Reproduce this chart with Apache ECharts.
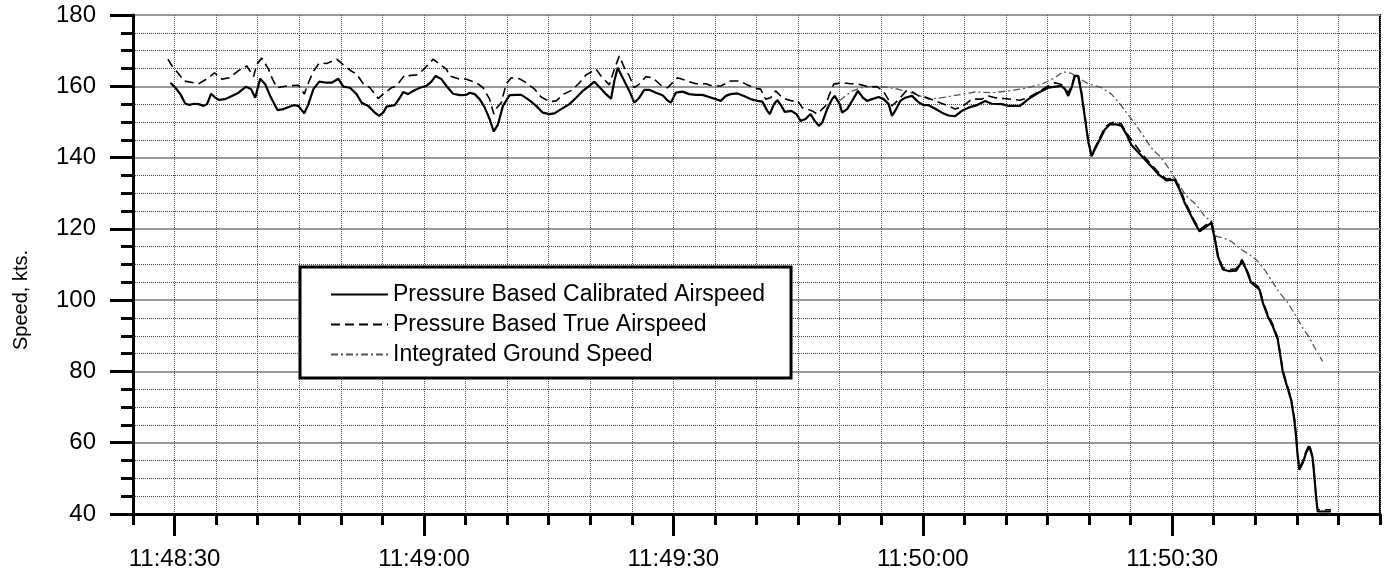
<!DOCTYPE html>
<html>
<head>
<meta charset="utf-8">
<script src="https://cdn.jsdelivr.net/npm/echarts@6/dist/echarts.min.js"></script>
<style>
  html, body { margin: 0; padding: 0; background: #ffffff; }
  #chart { width: 1389px; height: 581px; }
</style>
</head>
<body>
<div id="chart"></div>
<script>
// Time base: 11:48:30 expressed as seconds after midnight.
const T0 = 11 * 3600 + 48 * 60 + 30;

// Axis ranges and tick labels
const xStart = T0 - 5;          // 11:48:25
const xEnd = T0 + 145;          // 11:50:55
const xLabelTimes = [T0, T0 + 30, T0 + 60, T0 + 90, T0 + 120];
const yMin = 40, yMax = 180;

const seriesNames = [
  'Pressure Based Calibrated Airspeed',
  'Pressure Based True Airspeed',
  'Integrated Ground Speed'
];

// [seconds after 11:48:30, knots]
const calibratedAirspeed = [
  [-0.5,161.0],[0.1,159.6],[0.7,157.8],[1.3,155.1],[1.8,154.8],[2.3,155.1],[2.9,155.0],[3.5,154.5],
  [3.9,155.0],[4.4,157.9],[4.9,156.8],[5.3,156.2],[6.1,156.4],[6.9,157.3],[7.7,158.2],[8.6,159.9],
  [9.2,159.2],[9.7,156.8],[10.3,162.1],[10.9,160.6],[11.5,157.3],[12.4,153.3],[13.1,153.6],[14.3,154.7],
  [14.9,154.5],[15.6,152.4],[16.1,155.0],[16.7,159.2],[17.4,161.3],[18.3,161.0],[18.9,161.0],[19.7,162.1],
  [20.3,159.9],[21.1,159.6],[21.9,157.8],[22.5,155.4],[23.3,154.5],[24.1,152.6],[24.6,151.7],[25.1,152.6],
  [25.5,154.3],[26.5,154.7],[27.1,156.8],[27.5,158.4],[28.1,157.8],[28.7,158.7],[29.5,159.6],[30.3,160.1],
  [30.9,161.3],[31.4,162.9],[32.1,162.0],[32.7,160.1],[33.5,157.9],[34.3,157.5],[35.1,157.6],[35.5,158.2],
  [36.1,157.8],[36.7,156.4],[37.3,154.1],[37.9,150.8],[38.4,147.3],[38.9,149.3],[39.5,154.5],[40.3,157.5],
  [41.1,157.6],[41.7,157.6],[42.5,156.4],[43.5,154.5],[44.3,152.6],[45.1,152.2],[45.7,152.4],[46.5,153.6],
  [47.5,155.0],[48.3,156.8],[49.1,158.7],[49.9,160.1],[50.5,161.3],[51.3,159.3],[51.9,157.8],[52.5,156.5],
  [52.9,161.5],[53.3,165.2],[53.9,162.4],[54.7,158.7],[55.3,155.4],[55.9,156.8],[56.5,159.0],[57.1,159.0],
  [57.9,158.2],[58.7,157.5],[59.3,156.0],[59.7,155.4],[60.3,158.2],[61.1,158.5],[61.9,157.8],[62.7,157.6],
  [63.5,157.6],[64.3,157.0],[65.1,156.4],[65.7,155.9],[66.3,157.3],[66.9,157.8],[67.7,158.0],[68.5,157.3],
  [69.3,156.4],[70.1,155.9],[70.7,155.7],[71.3,153.1],[71.6,152.2],[72.1,155.0],[72.5,156.1],[73.0,154.5],
  [73.4,152.8],[74.2,153.1],[74.8,152.2],[75.3,150.3],[75.9,150.8],[76.5,152.2],[77.0,150.3],[77.5,148.9],
  [77.9,149.8],[78.5,153.6],[79.1,156.4],[79.4,157.3],[80.0,155.0],[80.3,152.6],[80.9,153.6],[81.5,155.9],
  [82.2,158.7],[82.8,156.8],[83.3,155.9],[83.9,156.4],[84.7,157.0],[85.3,156.4],[85.9,155.0],[86.3,151.7],
  [86.8,153.6],[87.3,155.9],[87.9,156.8],[88.7,157.3],[89.5,155.5],[90.1,154.7],[90.7,154.7],[91.5,153.7],
  [92.3,152.6],[93.1,151.8],[93.9,151.6],[94.7,153.1],[95.5,154.0],[96.5,154.7],[97.5,155.9],[98.3,155.1],
  [99.5,155.0],[100.3,154.5],[101.7,154.5],[102.7,156.4],[103.9,158.2],[105.1,159.6],[106.7,160.1],[107.1,159.2],
  [107.5,157.3],[107.9,159.6],[108.3,162.9],[108.7,162.9],[109.1,157.8],[109.5,151.2],[109.9,144.6],[110.3,140.4],
  [110.7,142.3],[111.3,145.1],[111.9,147.9],[112.5,149.3],[113.3,149.3],[113.9,148.9],[114.5,146.5],[115.1,143.5],
  [116.3,140.5],[117.5,137.5],[118.5,135.0],[119.3,133.6],[120.3,133.8],[120.9,131.0],[121.5,127.3],[122.1,124.5],
  [122.7,121.7],[123.3,119.3],[123.9,120.3],[124.7,121.7],[125.1,117.5],[125.5,112.3],[126.1,108.6],[126.9,108.1],
  [127.7,108.3],[128.4,110.9],[128.9,108.6],[129.5,104.9],[130.5,103.0],[130.9,99.3],[131.5,95.5],[132.1,92.7],
  [132.7,89.0],[133.3,80.0],[133.7,76.7],[134.3,72.1],[134.7,66.4],[134.9,61.8],[135.1,56.2],[135.3,52.4],
  [135.7,54.3],[136.1,57.1],[136.5,59.0],[136.9,55.7],[137.1,50.6],[137.3,45.0],[137.5,40.7],[138.3,40.7],
  [139.1,40.7]
];

const trueAirspeed = [
  [-0.8,167.6],[-0.3,165.7],[0.7,162.9],[1.1,161.5],[2.3,161.0],[2.9,160.7],[4.1,162.4],[4.8,163.8],
  [5.7,162.0],[6.6,162.4],[7.7,164.4],[8.7,165.7],[9.5,162.7],[9.9,166.2],[10.5,167.9],[11.3,164.8],
  [11.7,162.4],[12.3,159.6],[13.5,160.1],[14.9,160.3],[15.6,157.8],[16.1,161.0],[16.7,164.2],[17.4,166.5],
  [18.3,166.4],[19.5,167.6],[20.2,166.2],[21.1,164.5],[21.9,163.4],[22.7,160.7],[23.5,159.6],[24.5,156.6],
  [25.1,157.8],[26.1,159.6],[26.7,160.1],[27.7,163.2],[28.2,163.0],[29.1,163.2],[29.9,164.6],[31.1,167.6],
  [32.7,164.8],[33.1,162.9],[34.3,162.0],[35.1,162.0],[36.3,161.0],[37.1,159.6],[37.9,156.4],[38.4,152.2],
  [38.8,154.1],[39.3,155.4],[39.9,160.7],[40.5,162.4],[41.5,162.1],[42.3,161.0],[43.3,159.2],[44.1,157.0],
  [45.1,155.7],[45.9,155.9],[46.8,157.8],[47.8,158.9],[48.7,161.0],[49.5,163.2],[50.7,164.8],[51.3,162.9],
  [52.3,160.4],[52.9,164.8],[53.5,168.5],[54.1,165.2],[54.7,162.9],[55.3,159.6],[55.9,160.6],[56.7,162.7],
  [57.5,162.4],[58.7,159.9],[59.3,159.6],[60.1,161.5],[60.5,162.4],[61.9,161.3],[62.7,160.7],[63.9,160.7],
  [64.7,160.1],[65.7,160.1],[66.9,161.5],[68.0,161.5],[68.8,160.5],[69.9,159.4],[70.5,159.2],[71.1,156.4],
  [71.7,156.8],[72.3,158.7],[72.9,157.3],[73.5,156.4],[74.3,155.9],[74.9,156.1],[75.5,154.0],[76.1,153.6],
  [76.7,153.1],[77.3,152.2],[77.9,153.6],[78.3,154.5],[78.7,157.3],[79.3,160.6],[80.3,161.0],[81.3,160.7],
  [82.1,160.7],[82.6,160.4],[83.5,159.8],[84.5,159.9],[85.3,158.5],[86.3,154.5],[87.0,156.0],[88.0,158.7],
  [88.7,158.5],[89.5,157.3],[90.3,157.0],[91.5,155.9],[92.3,155.2],[93.1,154.5],[93.9,153.6],[94.9,154.5],
  [95.9,156.4],[97.1,156.4],[97.9,157.3],[98.7,156.8],[100.0,156.5],[101.7,156.1],[102.7,156.8],[104.1,158.7],
  [105.1,160.1],[105.9,161.0],[106.7,160.5],[107.1,159.2],[107.5,158.3],[107.9,160.0],[108.3,163.4],[108.7,163.0],
  [109.1,158.5],[109.5,151.8],[109.9,145.0],[110.3,140.8],[110.7,142.8],[111.3,145.6],[111.9,148.5],[112.5,149.6],
  [113.3,150.1],[113.9,149.4],[114.5,147.0],[115.1,145.0],[116.3,141.2],[117.5,138.0],[118.5,135.5],[119.3,134.0],
  [120.3,134.2],[120.9,131.6],[121.5,128.0],[122.1,125.0],[122.7,122.2],[123.3,119.8],[123.9,120.8],[124.7,122.2],
  [125.1,118.0],[125.5,112.8],[126.1,109.1],[126.9,108.6],[127.7,108.8],[128.4,111.4],[128.9,109.1],[129.5,105.4],
  [130.5,103.5],[130.9,99.8],[131.5,96.0],[132.1,93.2],[132.7,89.5],[133.3,80.5],[133.7,77.2],[134.3,72.6],
  [134.7,66.9],[134.9,62.3],[135.1,56.7],[135.3,52.9],[135.7,54.8],[136.1,57.6],[136.5,59.5],[136.9,56.2],
  [137.1,51.1],[137.3,45.5],[137.5,41.2],[138.3,41.2],[139.1,41.2]
];

const groundSpeed = [
  [80.0,156.0],[80.8,157.5],[81.6,158.8],[82.6,159.6],[84.0,160.0],[85.5,159.8],[87.0,159.2],[88.5,158.3],
  [90.0,157.0],[90.7,156.4],[92.3,156.8],[94.3,157.6],[96.3,158.4],[98.3,158.2],[100.3,158.7],[102.3,159.4],
  [104.3,160.6],[105.9,162.4],[106.9,164.1],[107.9,163.6],[108.7,162.4],[109.9,160.7],[111.5,159.6],[112.7,157.8],
  [113.9,154.5],[115.1,150.8],[116.3,146.9],[117.5,142.7],[118.7,139.9],[119.7,136.6],[120.7,132.9],[121.7,129.2],
  [122.9,126.8],[123.9,123.6],[124.7,122.1],[125.3,117.9],[126.1,117.5],[127.1,116.5],[128.3,114.2],[129.3,112.8],
  [130.3,110.9],[131.1,108.6],[131.9,105.8],[132.9,102.1],[133.9,99.3],[134.9,95.5],[135.7,92.2],[136.5,89.5],
  [137.3,86.0],[138.1,82.8]
];

const FONT = '"Liberation Sans", Arial, Helvetica, sans-serif';

function toClock(sec) {
  const h = Math.floor(sec / 3600);
  const m = Math.floor((sec % 3600) / 60);
  const s = Math.round(sec % 60);
  const p = n => String(n).padStart(2, '0');
  return h + ':' + p(m) + ':' + p(s);
}

const absTime = pts => pts.map(([t, v]) => [T0 + t, v]);

const chart = echarts.init(document.getElementById('chart'), null, { renderer: 'canvas' });

chart.setOption({
  animation: false,
  backgroundColor: '#ffffff',
  textStyle: { fontFamily: FONT, color: '#000' },
  grid: {
    left: 133, right: 9, top: 15, bottom: 67,
    show: true, borderColor: '#000', borderWidth: 2, backgroundColor: 'transparent'
  },
  legend: {
    orient: 'vertical',
    left: 300, top: 267,
    padding: [16, 26, 12, 30],
    itemGap: 7,
    itemWidth: 57,
    itemHeight: 14,
    backgroundColor: '#ffffff',
    borderColor: '#000',
    borderWidth: 3,
    borderRadius: 0,
    // line samples only, no point marker
    itemStyle: { opacity: 0 },
    lineStyle: { opacity: 1 },
    textStyle: { fontFamily: FONT, fontSize: 23, color: '#000' },
    data: seriesNames
  },
  xAxis: [
    {
      // minor 5-second ticks and the vertical grid
      type: 'value', min: xStart, max: xEnd, interval: 5,
      axisLine: { show: true, onZero: false, lineStyle: { color: '#000', width: 3 } },
      axisTick: { show: true, inside: false, length: 11, lineStyle: { color: '#000', width: 3 } },
      axisLabel: { show: false },
      splitLine: { show: true, lineStyle: { color: '#555', width: 1, type: 'dotted' } }
    },
    {
      // 30-second labelled ticks
      type: 'value', min: xStart, max: xEnd, position: 'bottom',
      axisLine: { show: false },
      axisTick: { show: true, inside: false, length: 22, customValues: xLabelTimes,
                  lineStyle: { color: '#000', width: 3 } },
      axisLabel: { show: true, customValues: xLabelTimes, margin: 33, fontSize: 24,
                   fontFamily: FONT, color: '#000', formatter: v => toClock(v) },
      splitLine: { show: false }
    }
  ],
  yAxis: [
    {
      // minor 5-knot ticks and dotted grid
      type: 'value', min: yMin, max: yMax, interval: 5, position: 'left',
      axisLine: { show: true, onZero: false, lineStyle: { color: '#000', width: 3 } },
      axisTick: { show: true, inside: false, length: 12, lineStyle: { color: '#000', width: 3 } },
      axisLabel: { show: false },
      splitLine: { show: true, lineStyle: { color: '#444', width: 1, type: 'dotted' } }
    },
    {
      // labelled 20-knot ticks with solid grey grid
      type: 'value', min: yMin, max: yMax, interval: 20, position: 'left',
      axisLine: { show: false },
      axisTick: { show: true, inside: false, length: 23, lineStyle: { color: '#000', width: 3 } },
      axisLabel: { show: true, margin: 37, fontSize: 24, fontFamily: FONT, color: '#000' },
      splitLine: { show: true, lineStyle: { color: '#9a9a9a', width: 2, type: 'solid' } }
    }
  ],
  graphic: [
    {
      type: 'text', x: 21, y: 300, rotation: Math.PI / 2,
      style: {
        text: 'Speed, kts.', fontFamily: FONT, fontSize: 20, fill: '#000',
        textAlign: 'center', textVerticalAlign: 'middle'
      }
    }
  ],
  series: [
    {
      name: seriesNames[2], type: 'line', xAxisIndex: 0, yAxisIndex: 0,
      data: absTime(groundSpeed), symbol: 'none', smooth: false, z: 3,
      lineStyle: { color: '#555', width: 1.3, type: [7, 3, 2, 3] },
      itemStyle: { color: '#555' }
    },
    {
      name: seriesNames[1], type: 'line', xAxisIndex: 0, yAxisIndex: 0,
      data: absTime(trueAirspeed), symbol: 'none', smooth: false, z: 4,
      lineStyle: { color: '#000', width: 1.6, type: [9, 5] },
      itemStyle: { color: '#000' }
    },
    {
      name: seriesNames[0], type: 'line', xAxisIndex: 0, yAxisIndex: 0,
      data: absTime(calibratedAirspeed), symbol: 'none', smooth: false, z: 5,
      lineStyle: { color: '#000', width: 2.2 },
      itemStyle: { color: '#000' }
    }
  ]
});
</script>
</body>
</html>
